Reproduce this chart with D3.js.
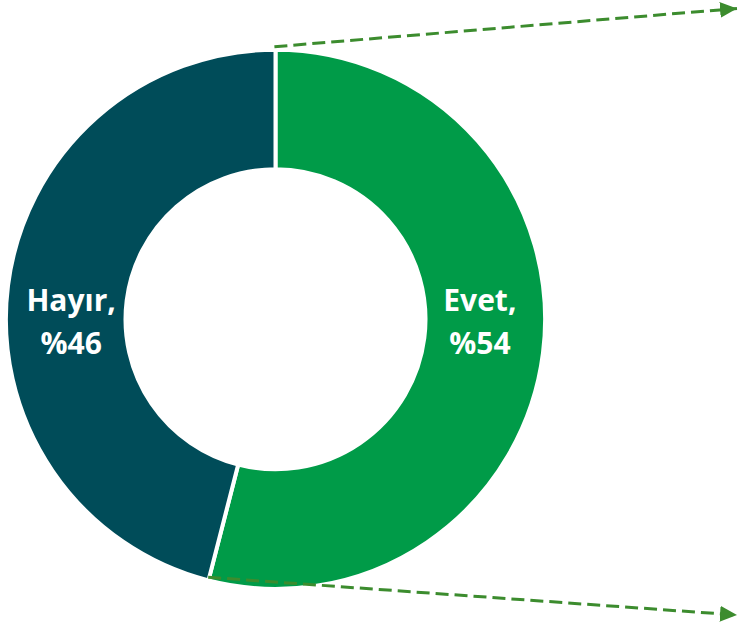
<!DOCTYPE html>
<html lang="tr">
<head>
<meta charset="utf-8">
<script src="https://cdn.jsdelivr.net/npm/d3@7"></script>
<style>
  html, body { margin: 0; padding: 0; background: #fff; }
  svg { display: block; }
</style>
</head>
<body>
<svg id="chart" width="738" height="627"></svg>
<script>
// Answer shares (percent)
const categories = ["Evet", "Hayır"];
const values = [54, 46];
const valueLabels = ["%54", "%46"];

const colors = ["#009B48", "#004C59"];
const arrowColor = "#3C8C2E";

const width = 738, height = 627;
const cx = 275.5, cy = 319.3;
const outerR = 269.6, innerR = 150;

const svg = d3.select("#chart");

const pie = d3.pie().sort(null).value(d => d.value).startAngle(0).endAngle(2 * Math.PI);
const data = categories.map((c, i) => ({ category: c, value: values[i], label: valueLabels[i], color: colors[i] }));
const arcs = pie(data);

const arc = d3.arc().innerRadius(innerR).outerRadius(outerR);
const labelArc = d3.arc().innerRadius(206).outerRadius(206);

const g = svg.append("g").attr("transform", `translate(${cx},${cy})`);

g.selectAll("path.slice")
  .data(arcs)
  .join("path")
  .attr("class", "slice")
  .attr("d", arc)
  .attr("fill", d => d.data.color)
  .attr("stroke", "#fff")
  .attr("stroke-width", 4)
  .attr("stroke-linejoin", "miter");

// Slice labels: category on first line, percentage on second
const labels = g.selectAll("text.label")
  .data(arcs)
  .join("text")
  .attr("class", "label")
  .attr("text-anchor", "middle")
  .attr("fill", "#fff")
  .style("font-family", "'Open Sans', sans-serif")
  .style("font-weight", 700)
  .style("font-size", "30px");

labels.append("tspan")
  .attr("x", d => labelArc.centroid(d)[0])
  .attr("y", -8.6)
  .text(d => d.data.category + ",");

labels.append("tspan")
  .attr("x", d => labelArc.centroid(d)[0])
  .attr("y", 34.7)
  .text(d => d.data.label);

// Dashed callout arrows leaving the edges of the "Evet" slice
const defs = svg.append("defs");
defs.append("marker")
  .attr("id", "arrowhead")
  .attr("markerUnits", "userSpaceOnUse")
  .attr("viewBox", "0 0 17 16")
  .attr("refX", 17)
  .attr("refY", 8)
  .attr("markerWidth", 17)
  .attr("markerHeight", 16)
  .attr("orient", "auto")
  .append("path")
  .attr("d", "M0,0 L17,8 L0,16 Z")
  .attr("fill", arrowColor);

const evet = arcs[0];
function edgePoint(angle, r) {
  return [cx + r * Math.sin(angle), cy - r * Math.cos(angle)];
}
const callouts = [
  { from: edgePoint(evet.startAngle - 0.004, outerR + 3), to: [737, 8.5] },
  { from: edgePoint(evet.endAngle + 0.004, outerR - 3), to: [737, 615] }
];

svg.selectAll("line.callout")
  .data(callouts)
  .join("line")
  .attr("class", "callout")
  .attr("x1", d => d.from[0])
  .attr("y1", d => d.from[1])
  .attr("x2", d => d.to[0])
  .attr("y2", d => d.to[1])
  .attr("stroke", arrowColor)
  .attr("stroke-width", 3)
  .attr("stroke-dasharray", "13 6")
  .attr("marker-end", "url(#arrowhead)");
</script>
</body>
</html>
